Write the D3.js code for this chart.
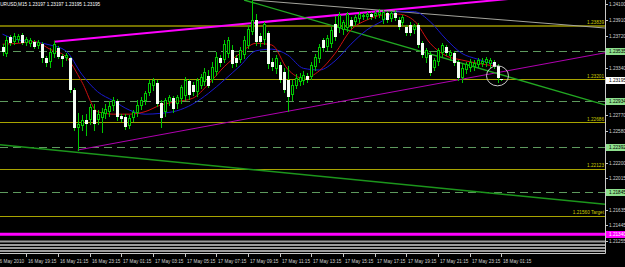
<!DOCTYPE html>
<html>
<head>
<meta charset="utf-8">
<script src="https://cdn.jsdelivr.net/npm/d3@7"></script>
<style>
 html, body { margin: 0; padding: 0; background: #000; overflow: hidden; }
 svg { display: block; font-family: "Liberation Sans", Arial, sans-serif; }
</style>
</head>
<body>
<div id="chart"></div>
<script>
// EURUSD M15, 16-18 May 2010
const symbol = "EURUSD,M15";
const firstBar = new Date(2010, 4, 16, 17, 45);

const opens = [
 1.2359,1.2350,1.2371,1.2365,1.2367,1.2373,1.2363,1.2362,1.2365,1.2360,
 1.2362,1.2345,1.2341,1.2350,1.2357,1.2348,1.2345,1.2345,1.2307,1.2261,
 1.2264,1.2271,1.2271,1.2283,1.2271,1.2273,1.2278,1.2281,1.2288,1.2294,
 1.2276,1.2275,1.2264,1.2273,1.2279,1.2288,1.2294,1.2303,1.2312,1.2315,
 1.2291,1.2281,1.2293,1.2297,1.2290,1.2296,1.2300,1.2318,1.2313,1.2305,
 1.2312,1.2317,1.2324,1.2319,1.2329,1.2345,1.2343,1.2350,1.2355,1.2345,
 1.2343,1.2349,1.2360,1.2377,1.2391,1.2372,1.2367,1.2375,1.2341,1.2332,
 1.2337,1.2329,1.2319,1.2301,1.2312,1.2317,1.2318,1.2324,1.2323,1.2335,
 1.2344,1.2367,1.2359,1.2362,1.2386,1.2381,1.2379,1.2381,1.2391,1.2389,
 1.2392,1.2395,1.2395,1.2398,1.2396,1.2397,1.2391,1.2399,1.2392,1.2399,
 1.2391,1.2387,1.2383,1.2385,1.2379,1.2385,1.2363,1.2345,1.2349,1.2333,
 1.2341,1.2351,1.2359,1.2348,1.2351,1.2341,1.2321,1.2331,1.2333,1.2335,
 1.2337,1.2338,1.2339,1.2338,1.2341,1.2336,1.23197];
const highs = [
 1.2362,1.2372,1.2373,1.2375,1.2374,1.2375,1.2371,1.2369,1.2367,1.2367,
 1.2365,1.2348,1.2357,1.2366,1.2360,1.2350,1.2351,1.2347,1.2309,1.2279,
 1.2277,1.2278,1.2290,1.2290,1.2283,1.2285,1.2290,1.2294,1.2299,1.2296,
 1.2278,1.2278,1.2277,1.2283,1.2295,1.2299,1.2306,1.2319,1.2321,1.2319,
 1.2295,1.2297,1.2301,1.2300,1.2301,1.2313,1.2323,1.2320,1.2317,1.2321,
 1.2326,1.2333,1.2331,1.2341,1.2353,1.2349,1.2367,1.2371,1.2361,1.2349,
 1.2359,1.2372,1.2385,1.2415,1.2398,1.2375,1.2389,1.2378,1.2345,1.2349,
 1.2341,1.2333,1.2336,1.2319,1.2326,1.2327,1.2330,1.2327,1.2341,1.2350,
 1.2362,1.2369,1.2373,1.2383,1.2396,1.2401,1.2391,1.2401,1.2395,1.2397,
 1.2401,1.2399,1.2401,1.2401,1.2402,1.2404,1.2403,1.2402,1.2402,1.2403,
 1.2395,1.2397,1.2385,1.2389,1.2386,1.2387,1.2366,1.2357,1.2353,1.2345,
 1.2357,1.2363,1.2361,1.2355,1.2354,1.2343,1.2338,1.2341,1.2344,1.2343,
 1.2345,1.2345,1.2347,1.2345,1.2343,1.2338,1.23197];
const lows = [
 1.2349,1.2348,1.2361,1.2362,1.2365,1.2362,1.2361,1.2360,1.2357,1.2357,
 1.2341,1.2336,1.2335,1.2347,1.2345,1.2336,1.2343,1.2305,1.2259,1.2235,
 1.2259,1.2253,1.2266,1.2259,1.2266,1.2257,1.2273,1.2276,1.2283,1.2271,
 1.2270,1.2260,1.2261,1.2270,1.2276,1.2284,1.2290,1.2301,1.2307,1.2288,
 1.2263,1.2276,1.2289,1.2281,1.2285,1.2291,1.2295,1.2296,1.2301,1.2300,
 1.2309,1.2313,1.2311,1.2317,1.2325,1.2336,1.2341,1.2347,1.2335,1.2336,
 1.2341,1.2345,1.2357,1.2374,1.2361,1.2360,1.2362,1.2333,1.2331,1.2327,
 1.2317,1.2305,1.2282,1.2295,1.2309,1.2313,1.2314,1.2317,1.2320,1.2331,
 1.2341,1.2354,1.2355,1.2359,1.2367,1.2377,1.2374,1.2378,1.2381,1.2385,
 1.2389,1.2392,1.2392,1.2392,1.2393,1.2395,1.2387,1.2389,1.2390,1.2391,
 1.2380,1.2385,1.2373,1.2373,1.2375,1.2359,1.2347,1.2341,1.2325,1.2331,
 1.2337,1.2348,1.2349,1.2343,1.2337,1.2319,1.2317,1.2327,1.2330,1.2331,
 1.2335,1.2336,1.2336,1.2335,1.2333,1.2317,1.23195];
const closes = [
 1.2353,1.2367,1.2363,1.2372,1.2372,1.2363,1.2368,1.2367,1.2359,1.2365,
 1.2345,1.2339,1.2353,1.2362,1.2347,1.2344,1.2349,1.2307,1.2261,1.2266,
 1.2271,1.2266,1.2287,1.2266,1.2278,1.2281,1.2284,1.2288,1.2295,1.2275,
 1.2272,1.2263,1.2273,1.2281,1.2289,1.2295,1.2303,1.2315,1.2319,1.2290,
 1.2273,1.2295,1.2299,1.2284,1.2299,1.2311,1.2319,1.2301,1.2305,1.2319,
 1.2323,1.2329,1.2312,1.2335,1.2347,1.2339,1.2362,1.2367,1.2338,1.2339,
 1.2355,1.2367,1.2380,1.2391,1.2365,1.2365,1.2386,1.2338,1.2335,1.2345,
 1.2319,1.2307,1.2299,1.2313,1.2321,1.2323,1.2325,1.2319,1.2337,1.2347,
 1.2359,1.2357,1.2369,1.2379,1.2371,1.2397,1.2389,1.2398,1.2384,1.2395,
 1.2398,1.2397,1.2398,1.2395,1.2399,1.2401,1.2401,1.2391,1.2399,1.2393,
 1.2383,1.2395,1.2375,1.2375,1.2384,1.2361,1.2349,1.2355,1.2327,1.2343,
 1.2355,1.2361,1.2351,1.2353,1.2339,1.2321,1.2333,1.2338,1.2341,1.2339,
 1.2343,1.2342,1.2344,1.2343,1.2335,1.2321,1.23195];

// moving averages, read every 4th bar
const maIndex = [0,4,8,12,16,20,24,28,32,36,40,44,48,52,56,60,64,68,72,76,80,84,88,92,96,100,104,108,112,116,120,124];
const maFast = [1.2362,1.2363,1.2365,1.2356,1.2347,1.2317,1.2281,1.2278,1.2278,1.2281,1.2289,1.2293,1.2297,1.2314,1.2335,1.2351,
 1.2363,1.2361,1.2332,1.2321,1.2330,1.2351,1.2379,1.2391,1.2397,1.2398,1.2390,1.2363,1.2348,1.2343,1.2339,1.2336];
const maSlow = [1.2374,1.2367,1.2365,1.2361,1.2354,1.2326,1.2305,1.2294,1.2283,1.2278,1.2279,1.2282,1.2290,1.2303,1.2319,1.2336,
 1.2354,1.2356,1.2349,1.2333,1.2331,1.2342,1.2362,1.2379,1.2390,1.2401,1.2401,1.2389,1.2368,1.2351,1.2344,1.2338];

// trend lines: [bar index, price] anchors
const magentaUpper = [[13, 1.2365], [125, 1.2415]];
const magentaLower = [[19, 1.2235], [124, 1.2327]];
const greenFalling = [[61, 1.2415], [124, 1.2328]];
const greenLong = [[0, 1.2241], [124, 1.2183]];
const greyFalling = [[63, 1.2415], [124, 1.2392]];

// horizontal levels
const topLevel = 1.23839;
const solidLevels = [1.23201, 1.22686, 1.22123];
const dashedLevels = [1.23535, 1.22934, 1.22392, 1.21845];
const targetLevel = 1.21560;
const magentaLevel = 1.21340;
const greyLevels = [1.21252, 1.21210, 1.21174, 1.21138];
const bidPrice = 1.23195;
const circled = [125, 1.2324];

const priceTicks = ["1.24100","1.23910","1.23720","1.23530","1.23340","1.23150","1.22960","1.22770",
 "1.22580","1.22390","1.22200","1.22015","1.21825","1.21635","1.21445","1.21255"];
const timeTicks = ["2010-05-16 17:15","2010-05-16 19:15","2010-05-16 21:15","2010-05-16 23:15",
 "2010-05-17 01:15","2010-05-17 03:15","2010-05-17 05:15","2010-05-17 07:15","2010-05-17 09:15",
 "2010-05-17 11:15","2010-05-17 13:15","2010-05-17 15:15","2010-05-17 17:15","2010-05-17 19:15",
 "2010-05-17 21:15","2010-05-17 23:15","2010-05-18 01:15"];
const timeLabels = ["16 May 2010","16 May 19:15","16 May 21:15","16 May 23:15","17 May 01:15","17 May 03:15",
 "17 May 05:15","17 May 07:15","17 May 09:15","17 May 11:15","17 May 13:15","17 May 15:15","17 May 17:15",
 "17 May 19:15","17 May 21:15","17 May 23:15","18 May 01:15"];

const W = 625, H = 267;
const plotW = 605, plotH = 253;
const barPx = 3.96, firstPx = 2.5;
const pxPerPrice = 1 / 0.00012;
const lime = "#00c800";
const fs = 4.7;

const barTime = (i) => d3.timeMinute.offset(firstBar, 15 * i);
const minutesAt = (px) => (px - firstPx) / barPx * 15;

const x = d3.scaleTime()
 .domain([d3.timeSecond.offset(firstBar, minutesAt(0) * 60), d3.timeSecond.offset(firstBar, minutesAt(plotW) * 60)])
 .range([0, plotW]);
const y = d3.scaleLinear()
 .domain([1.2415, 1.2415 - plotH / pxPerPrice])
 .range([0, plotH]);

const svg = d3.select("#chart").append("svg")
 .attr("width", W).attr("height", H)
 .style("background", "#000");

svg.append("clipPath").attr("id", "plot")
 .append("rect").attr("width", plotW).attr("height", plotH);

const plot = svg.append("g").attr("clip-path", "url(#plot)");

// grey stripes
plot.selectAll(".grey").data(greyLevels).enter().append("line")
 .attr("x1", 0).attr("x2", plotW)
 .attr("y1", (d) => y(d)).attr("y2", (d) => y(d))
 .attr("stroke", "#9c9c9c").attr("stroke-width", 2);

// dashed levels
plot.selectAll(".dash").data(dashedLevels).enter().append("line")
 .attr("x1", 0).attr("x2", plotW)
 .attr("y1", (d) => Math.round(y(d)) + 0.5).attr("y2", (d) => Math.round(y(d)) + 0.5)
 .attr("stroke", "#5e9a5e").attr("stroke-dasharray", "8,5");

// solid yellow levels
plot.selectAll(".solid").data(solidLevels.concat([targetLevel])).enter().append("line")
 .attr("x1", 0).attr("x2", plotW)
 .attr("y1", (d) => Math.round(y(d)) + 0.5).attr("y2", (d) => Math.round(y(d)) + 0.5)
 .attr("stroke", "#a8a400");
plot.append("line")
 .attr("x1", 0).attr("x2", plotW)
 .attr("y1", y(topLevel)).attr("y2", y(topLevel))
 .attr("stroke", "#747000").attr("stroke-width", 2);
plot.append("line")
 .attr("x1", 0).attr("x2", plotW)
 .attr("y1", y(magentaLevel)).attr("y2", y(magentaLevel))
 .attr("stroke", "#ff00ff").attr("stroke-width", 3);

// trend lines, extended as rays to the right edge
const ray = (pts, both) => {
 const [a, b] = pts.map(([i, p]) => [x(barTime(i)), y(p)]);
 const k = (b[1] - a[1]) / (b[0] - a[0]);
 const x0 = both ? 0 : a[0];
 return [[x0, a[1] + k * (x0 - a[0])], [plotW, a[1] + k * (plotW - a[0])]];
};
const trends = [
 { pts: magentaUpper, color: "#ff00ff", w: 2, both: false },
 { pts: magentaLower, color: "#b000b0", w: 1, both: false },
 { pts: greenFalling, color: "#22a822", w: 1.4, both: false },
 { pts: greenLong, color: "#1c961c", w: 1.4, both: true },
 { pts: greyFalling, color: "#a4a49c", w: 1, both: false },
];
plot.selectAll(".trend").data(trends).enter().append("path")
 .attr("d", (d) => d3.line()(ray(d.pts, d.both)))
 .attr("fill", "none")
 .attr("stroke", (d) => d.color)
 .attr("stroke-width", (d) => d.w);

// moving averages
const maLine = (vals) => d3.line()
 .x((d, i) => x(barTime(maIndex[i])))
 .y((d) => y(d))
 .curve(d3.curveMonotoneX)(vals);
plot.append("path").attr("d", maLine(maSlow)).attr("fill", "none").attr("stroke", "#1a1ad0");
plot.append("path").attr("d", maLine(maFast)).attr("fill", "none").attr("stroke", "#d01010");

// candles
const bars = opens.map((o, i) => ({ t: barTime(i), o, h: highs[i], l: lows[i], c: closes[i] }));
const candle = plot.selectAll(".bar").data(bars).enter().append("g");
candle.append("line")
 .attr("x1", (d) => Math.round(x(d.t)) + 0.5).attr("x2", (d) => Math.round(x(d.t)) + 0.5)
 .attr("y1", (d) => Math.round(y(d.h))).attr("y2", (d) => Math.round(y(d.l)) + 1)
 .attr("stroke", lime);
const bodyTop = (d) => Math.round(y(Math.max(d.o, d.c)));
const bodyH = (d) => Math.max(1, Math.round(y(Math.min(d.o, d.c))) - bodyTop(d));
candle.append("rect")
 .attr("x", (d) => Math.round(x(d.t)) - 1).attr("width", 3)
 .attr("y", bodyTop).attr("height", bodyH)
 .attr("fill", (d) => (d.c < d.o ? "#f4fff4" : lime));
candle.filter((d) => d.c > d.o && bodyH(d) > 2).append("rect")
 .attr("x", (d) => Math.round(x(d.t))).attr("width", 1)
 .attr("y", (d) => bodyTop(d) + 1).attr("height", (d) => bodyH(d) - 2)
 .attr("fill", "#000");

// circle round the last candles
plot.append("ellipse")
 .attr("cx", x(barTime(circled[0]))).attr("cy", y(circled[1]))
 .attr("rx", 11).attr("ry", 10)
 .attr("fill", "none").attr("stroke", "#c8c8c8");

// level captions
const fmt = d3.format(".5f");
const captions = solidLevels.map((d) => ({ p: d, t: fmt(d) }))
 .concat([{ p: topLevel, t: fmt(topLevel) }, { p: targetLevel, t: fmt(targetLevel) + " Target" }]);
svg.selectAll(".cap").data(captions).enter().append("text")
 .attr("x", plotW - 1).attr("y", (d) => y(d.p) - 1.5)
 .attr("text-anchor", "end")
 .attr("font-size", fs).attr("fill", "#cccc00")
 .text((d) => d.t);

// header
svg.append("text")
 .attr("x", -3).attr("y", 6)
 .attr("font-size", fs).attr("fill", "#ffffff")
 .text(`${symbol}  ${fmt(opens[opens.length - 1])} ${fmt(highs[highs.length - 1])} ${fmt(lows[lows.length - 1])} ${fmt(closes[closes.length - 1])}`);

// right price axis
const boxes = dashedLevels.map((p) => ({ p, bg: "#8ee08e", fg: "#000" }))
 .concat([{ p: bidPrice, bg: "#ffffff", fg: "#000" }, { p: magentaLevel, bg: "#ff00ff", fg: "#fff" }]);
const covered = (v) => boxes.some((b) => Math.abs(y(b.p) - y(v)) < 6);

svg.append("line").attr("x1", plotW + 0.5).attr("x2", plotW + 0.5).attr("y1", 0).attr("y2", plotH + 0.5).attr("stroke", "#c8c8c8");
const pt = svg.selectAll(".ptick").data(priceTicks).enter().append("g")
 .attr("transform", (d) => `translate(${plotW},${Math.round(y(+d)) + 0.5})`);
pt.append("line").attr("x1", 0).attr("x2", 3).attr("stroke", "#c8c8c8");
pt.filter((d) => !covered(+d)).append("text").attr("x", 4).attr("dy", "0.35em")
 .attr("font-size", fs).attr("fill", "#d0d0d0").text((d) => d);

const bx = svg.selectAll(".box").data(boxes).enter().append("g")
 .attr("transform", (d) => `translate(${plotW + 1},${Math.round(y(d.p))})`);
bx.append("rect").attr("x", 0).attr("y", -3).attr("width", 20).attr("height", 7).attr("fill", (d) => d.bg);
bx.append("text").attr("x", 3).attr("y", 0.5).attr("dy", "0.35em")
 .attr("font-size", fs).attr("fill", (d) => d.fg).text((d) => fmt(d.p));

// bottom time axis
const parse = d3.timeParse("%Y-%m-%d %H:%M");
svg.append("line").attr("x1", 0).attr("x2", plotW + 0.5).attr("y1", plotH + 0.5).attr("y2", plotH + 0.5).attr("stroke", "#c8c8c8");
const tt = svg.selectAll(".ttick").data(timeTicks).enter().append("g")
 .attr("transform", (d) => `translate(${Math.round(x(parse(d))) + 0.5},${plotH})`);
tt.append("line").attr("y1", 0).attr("y2", 4).attr("stroke", "#c8c8c8");
tt.append("text").attr("x", 1.5).attr("y", 10)
 .attr("font-size", fs).attr("fill", "#d0d0d0")
 .text((d, i) => timeLabels[i]);
</script>
</body>
</html>
